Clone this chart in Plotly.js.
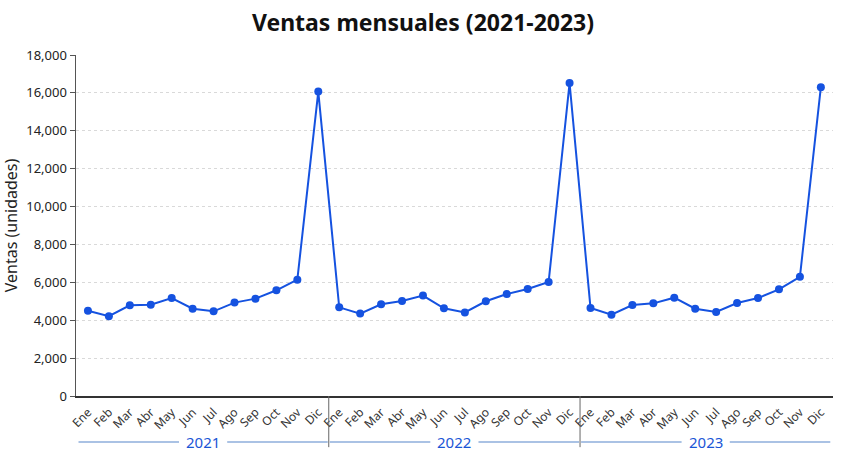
<!DOCTYPE html>
<html>
<head>
<meta charset="utf-8">
<script src="https://cdn.plot.ly/plotly-3.0.1.min.js"></script>
<style>
  html, body { margin: 0; padding: 0; background: #fff; }
  #plot { width: 846px; height: 464px; }
</style>
</head>
<body>
<div id="plot"></div>
<script>
// datos
var meses = ["Ene", "Feb", "Mar", "Abr", "May", "Jun", "Jul", "Ago", "Sep", "Oct", "Nov", "Dic"];
var anios = ["2021", "2022", "2023"];
var ventas2021 = [4500, 4210, 4790, 4820, 5170, 4610, 4470, 4930, 5140, 5580, 6140, 16070];
var ventas2022 = [4680, 4350, 4840, 5020, 5300, 4630, 4410, 5000, 5380, 5650, 6020, 16520];
var ventas2023 = [4650, 4290, 4800, 4890, 5190, 4610, 4440, 4910, 5170, 5630, 6290, 16300];

var series = [ventas2021, ventas2022, ventas2023];
var x = [], y = [], etiquetas = [];
series.forEach(function (s, k) {
  s.forEach(function (v, i) {
    x.push(k * 12 + i);
    y.push(v);
    etiquetas.push(meses[i]);
  });
});

var azul = "#1552e0";

var trace = {
  x: x,
  y: y,
  type: "scatter",
  mode: "lines+markers",
  line: { color: azul, width: 2 },
  marker: { color: azul, size: 8 },
  hoverinfo: "y"
};

var shapes = [];
var annotations = [];
anios.forEach(function (a, k) {
  var base = k * 12;
  annotations.push({
    text: a, xref: "x", yref: "paper", x: base + 5.5, y: -0.135,
    showarrow: false, xanchor: "center", yanchor: "middle",
    font: { size: 15, color: "#1a56d6" }
  });
  shapes.push({ type: "line", xref: "x", yref: "paper",
    x0: base - 0.45, x1: base + 4.35, y0: -0.135, y1: -0.135,
    line: { color: "#8eaedb", width: 1.5 } });
  shapes.push({ type: "line", xref: "x", yref: "paper",
    x0: base + 6.65, x1: base + 11.45, y0: -0.135, y1: -0.135,
    line: { color: "#8eaedb", width: 1.5 } });
  if (k > 0) {
    shapes.push({ type: "line", xref: "x", yref: "paper",
      x0: base - 0.5, x1: base - 0.5, y0: 0, y1: -0.15,
      line: { color: "#666", width: 1 } });
  }
});

var layout = {
  width: 846,
  height: 464,
  margin: { l: 76, r: 13, t: 55, b: 68 },
  paper_bgcolor: "#fff",
  plot_bgcolor: "#fff",
  font: { family: "Noto Sans, sans-serif", color: "#222" },
  showlegend: false,
  title: {
    text: "<b>Ventas mensuales (2021-2023)</b>",
    x: 0.5, xanchor: "center", y: 0.95, yanchor: "middle",
    font: { size: 23, color: "#111" }
  },
  xaxis: {
    range: [-0.57, 35.58],
    tickvals: x,
    ticktext: etiquetas,
    tickangle: -45,
    tickfont: { size: 12, color: "#333" },
    ticklabelstandoff: 3,
    showgrid: false,
    zeroline: false,
    showline: true,
    linecolor: "#333",
    linewidth: 1.5,
    ticks: ""
  },
  yaxis: {
    range: [0, 18000],
    dtick: 2000,
    tickformat: ",d",
    tickfont: { size: 13, color: "#222" },
    title: { text: "Ventas (unidades)", font: { size: 16, color: "#222" }, standoff: 8 },
    showgrid: true,
    gridcolor: "#d9d9d9",
    griddash: "dot",
    zeroline: false,
    showline: true,
    linecolor: "#555",
    linewidth: 1.5,
    ticks: "outside",
    ticklen: 5,
    tickcolor: "#555"
  },
  shapes: shapes,
  annotations: annotations
};

Plotly.newPlot("plot", [trace], layout, { displayModeBar: false, staticPlot: true });
</script>
</body>
</html>
